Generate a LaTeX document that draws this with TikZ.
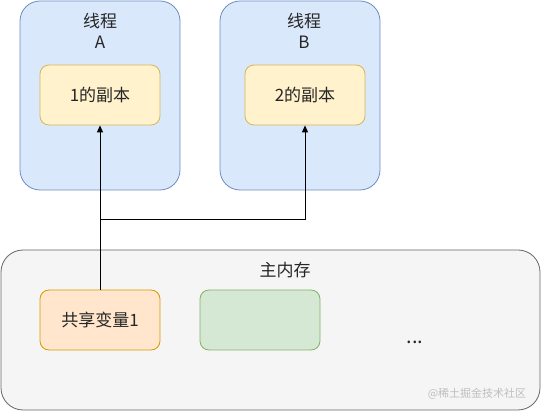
\documentclass[tikz,border=0pt]{standalone}
\usepackage{fontspec}
\setmainfont{Liberation Sans}
\newfontfamily\cjk{Noto Sans CJK SC}
\usetikzlibrary{arrows.meta}
\definecolor{blueF}{HTML}{DAE8FC}\definecolor{blueD}{HTML}{6C8EBF}
\definecolor{yelF}{HTML}{FFF2CC}\definecolor{yelD}{HTML}{D6B656}
\definecolor{orF}{HTML}{FFE6CC}\definecolor{orD}{HTML}{D79B00}
\definecolor{grF}{HTML}{D5E8D4}\definecolor{grD}{HTML}{82B366}
\definecolor{gyF}{HTML}{F5F5F5}\definecolor{gyD}{HTML}{666666}
\tikzset{
  box/.style={rounded corners=#1, line width=0.8pt},
  lbl/.style={font=\fontsize{17}{21}\selectfont\cjk, text=black!85, align=center, inner sep=0pt},
  conn/.style={line width=1pt, -{Triangle[length=7pt,width=6pt]}},
}
\begin{document}
\begin{tikzpicture}[x=1pt,y=-1pt]
\useasboundingbox (0,0) rectangle (541,411);
% threads
\draw[box=20pt, fill=blueF, draw=blueD] (20,1) rectangle (180,190);
\draw[box=20pt, fill=blueF, draw=blueD] (220,1) rectangle (380,190);
\node[lbl] (ta) at (100,31) {线程\\A};
\node[lbl] (tb) at (304,31) {线程\\B};
% copies
\node[box=9pt, fill=yelF, draw=yelD, minimum width=120pt, minimum height=60pt, lbl] (c1) at (100,95) {1的副本};
\node[box=9pt, fill=yelF, draw=yelD, minimum width=120pt, minimum height=60pt, lbl] (c2) at (305,95) {2的副本};
% main memory
\draw[box=22pt, fill=gyF, draw=gyD] (1,250) rectangle (540,410);
\node[lbl] (mm) at (285,270) {主内存};
\node[box=9pt, fill=orF, draw=orD, minimum width=120pt, minimum height=60pt, lbl] (sv) at (100,320) {共享变量1};
\node[box=9pt, fill=grF, draw=grD, minimum width=120pt, minimum height=60pt] (gb) at (260,320) {};
\node[lbl, font=\fontsize{20}{22}\selectfont\cjk] (dots) at (415,342) {...};
\node[font=\fontsize{11}{13}\selectfont\cjk, text=black!25, inner sep=0pt] (wm) at (477,394) {@稀土掘金技术社区};
% connectors
\coordinate (j) at (100,220);
\draw[conn] (sv.north) -- (c1.south);
\draw[conn] (j) -| (c2.south);
\end{tikzpicture}
\end{document}
